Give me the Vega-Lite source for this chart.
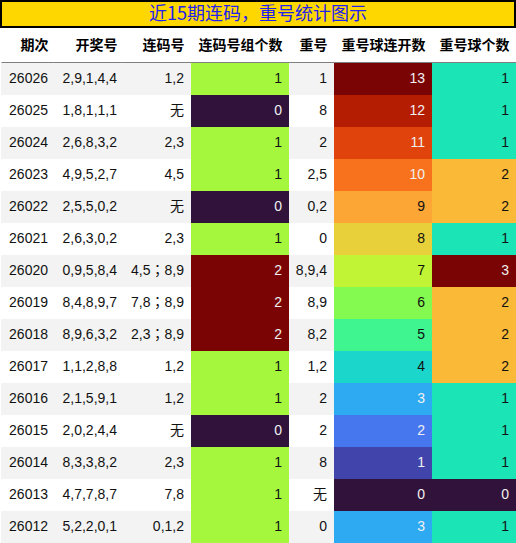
{
  "$schema": "https://vega.github.io/schema/vega-lite/v6.json",
  "padding": 0,
  "background": "#ffffff",
  "spacing": 10,
  "datasets": {
    "t": [
      {"period": 26026, "draw": "2,9,1,4,4", "lian": "1,2", "lianCount": 1, "chong": "1", "chongRun": 13, "chongCount": 1},
      {"period": 26025, "draw": "1,8,1,1,1", "lian": "无", "lianCount": 0, "chong": "8", "chongRun": 12, "chongCount": 1},
      {"period": 26024, "draw": "2,6,8,3,2", "lian": "2,3", "lianCount": 1, "chong": "2", "chongRun": 11, "chongCount": 1},
      {"period": 26023, "draw": "4,9,5,2,7", "lian": "4,5", "lianCount": 1, "chong": "2,5", "chongRun": 10, "chongCount": 2},
      {"period": 26022, "draw": "2,5,5,0,2", "lian": "无", "lianCount": 0, "chong": "0,2", "chongRun": 9, "chongCount": 2},
      {"period": 26021, "draw": "2,6,3,0,2", "lian": "2,3", "lianCount": 1, "chong": "0", "chongRun": 8, "chongCount": 1},
      {"period": 26020, "draw": "0,9,5,8,4", "lian": "4,5；8,9", "lianCount": 2, "chong": "8,9,4", "chongRun": 7, "chongCount": 3},
      {"period": 26019, "draw": "8,4,8,9,7", "lian": "7,8；8,9", "lianCount": 2, "chong": "8,9", "chongRun": 6, "chongCount": 2},
      {"period": 26018, "draw": "8,9,6,3,2", "lian": "2,3；8,9", "lianCount": 2, "chong": "8,2", "chongRun": 5, "chongCount": 2},
      {"period": 26017, "draw": "1,1,2,8,8", "lian": "1,2", "lianCount": 1, "chong": "1,2", "chongRun": 4, "chongCount": 2},
      {"period": 26016, "draw": "2,1,5,9,1", "lian": "1,2", "lianCount": 1, "chong": "2", "chongRun": 3, "chongCount": 1},
      {"period": 26015, "draw": "2,0,2,4,4", "lian": "无", "lianCount": 0, "chong": "2", "chongRun": 2, "chongCount": 1},
      {"period": 26014, "draw": "8,3,3,8,2", "lian": "2,3", "lianCount": 1, "chong": "8", "chongRun": 1, "chongCount": 1},
      {"period": 26013, "draw": "4,7,7,8,7", "lian": "7,8", "lianCount": 1, "chong": "无", "chongRun": 0, "chongCount": 0},
      {"period": 26012, "draw": "5,2,2,0,1", "lian": "0,1,2", "lianCount": 1, "chong": "0", "chongRun": 3, "chongCount": 1}
    ]
  },
  "vconcat": [
    {
      "width": 514,
      "height": 26,
      "view": {"fill": "#FFD700", "stroke": "#000000", "strokeWidth": 2},
      "data": {"values": [{"title": "近15期连码，重号统计图示"}]},
      "mark": {"type": "text", "fontSize": 18, "color": "#2222EE", "font": "Noto Sans CJK SC", "baseline": "middle", "align": "center", "dy": 1},
      "encoding": {"text": {"field": "title", "type": "nominal"}}
    },
    {
      "hconcat": [
        {
          "width": 52, "height": 480, "data": {"name": "t"},
          "layer": [
            {"mark": "rect", "encoding": {
              "x": {"datum": 0, "type": "quantitative", "scale": {"domain": [0, 1]}, "axis": {"orient": "top", "title": "期次", "titleX": 47}},
              "x2": {"datum": 1},
              "y": {"field": "period", "type": "ordinal", "sort": "descending", "scale": {"paddingInner": 0, "paddingOuter": 0}, "axis": null},
              "fill": {"field": "period", "type": "ordinal", "sort": "descending", "scale": {"range": ["#f3f3f3", "#ffffff"]}, "legend": null}
            }},
            {"mark": {"type": "text", "align": "right", "dx": -5, "baseline": "middle", "color": "#111111"}, "encoding": {
              "x": {"datum": 1, "type": "quantitative", "axis": {"orient": "top", "title": "期次", "titleX": 47}},
              "y": {"field": "period", "type": "ordinal", "sort": "descending", "axis": null},
              "text": {"field": "period", "type": "nominal"}
            }}
          ]
        },
        {
          "width": 68, "height": 480, "data": {"name": "t"},
          "layer": [
            {"mark": "rect", "encoding": {
              "x": {"datum": 0, "type": "quantitative", "scale": {"domain": [0, 1]}, "axis": {"orient": "top", "title": "开奖号", "titleX": 64}},
              "x2": {"datum": 1},
              "y": {"field": "period", "type": "ordinal", "sort": "descending", "scale": {"paddingInner": 0, "paddingOuter": 0}, "axis": null},
              "fill": {"field": "period", "type": "ordinal", "sort": "descending", "scale": {"range": ["#f3f3f3", "#ffffff"]}, "legend": null}
            }},
            {"mark": {"type": "text", "align": "right", "dx": -4, "baseline": "middle", "color": "#111111"}, "encoding": {
              "x": {"datum": 1, "type": "quantitative", "axis": {"orient": "top", "title": "开奖号", "titleX": 64}},
              "y": {"field": "period", "type": "ordinal", "sort": "descending", "axis": null},
              "text": {"field": "draw", "type": "nominal"}
            }}
          ]
        },
        {
          "width": 70, "height": 480, "data": {"name": "t"},
          "layer": [
            {"mark": "rect", "encoding": {
              "x": {"datum": 0, "type": "quantitative", "scale": {"domain": [0, 1]}, "axis": {"orient": "top", "title": "连码号", "titleX": 63}},
              "x2": {"datum": 1},
              "y": {"field": "period", "type": "ordinal", "sort": "descending", "scale": {"paddingInner": 0, "paddingOuter": 0}, "axis": null},
              "fill": {"field": "period", "type": "ordinal", "sort": "descending", "scale": {"range": ["#f3f3f3", "#ffffff"]}, "legend": null}
            }},
            {"mark": {"type": "text", "align": "right", "dx": -7, "baseline": "middle", "color": "#111111", "font": "Liberation Sans, Noto Sans CJK TC"}, "encoding": {
              "x": {"datum": 1, "type": "quantitative", "axis": {"orient": "top", "title": "连码号", "titleX": 63}},
              "y": {"field": "period", "type": "ordinal", "sort": "descending", "axis": null},
              "text": {"field": "lian", "type": "nominal"}
            }}
          ]
        },
        {
          "width": 98, "height": 480, "data": {"name": "t"},
          "layer": [
            {"mark": "rect", "encoding": {
              "x": {"datum": 0, "type": "quantitative", "scale": {"domain": [0, 1]}, "axis": {"orient": "top", "title": "连码号组个数", "titleX": 91}},
              "x2": {"datum": 1},
              "y": {"field": "period", "type": "ordinal", "sort": "descending", "scale": {"paddingInner": 0, "paddingOuter": 0}, "axis": null},
              "fill": {"field": "lianCount", "type": "quantitative", "scale": {"domain": [0, 1, 2], "range": ["#30123b", "#a4f73c", "#7a0403"]}, "legend": null}
            }},
            {"mark": {"type": "text", "align": "right", "dx": -7, "baseline": "middle"}, "encoding": {
              "x": {"datum": 1, "type": "quantitative", "axis": {"orient": "top", "title": "连码号组个数", "titleX": 91}},
              "y": {"field": "period", "type": "ordinal", "sort": "descending", "axis": null},
              "text": {"field": "lianCount", "type": "nominal"},
              "color": {"condition": {"test": "datum.lianCount != 1", "value": "#f0f0f0"}, "value": "#111111"}
            }}
          ]
        },
        {
          "width": 45, "height": 480, "data": {"name": "t"},
          "layer": [
            {"mark": "rect", "encoding": {
              "x": {"datum": 0, "type": "quantitative", "scale": {"domain": [0, 1]}, "axis": {"orient": "top", "title": "重号", "titleX": 38}},
              "x2": {"datum": 1},
              "y": {"field": "period", "type": "ordinal", "sort": "descending", "scale": {"paddingInner": 0, "paddingOuter": 0}, "axis": null},
              "fill": {"field": "period", "type": "ordinal", "sort": "descending", "scale": {"range": ["#f3f3f3", "#ffffff"]}, "legend": null}
            }},
            {"mark": {"type": "text", "align": "right", "dx": -7, "baseline": "middle", "color": "#111111"}, "encoding": {
              "x": {"datum": 1, "type": "quantitative", "axis": {"orient": "top", "title": "重号", "titleX": 38}},
              "y": {"field": "period", "type": "ordinal", "sort": "descending", "axis": null},
              "text": {"field": "chong", "type": "nominal"}
            }}
          ]
        },
        {
          "width": 98, "height": 480, "data": {"name": "t"},
          "layer": [
            {"mark": "rect", "encoding": {
              "x": {"datum": 0, "type": "quantitative", "scale": {"domain": [0, 1]}, "axis": {"orient": "top", "title": "重号球连开数", "titleX": 91}},
              "x2": {"datum": 1},
              "y": {"field": "period", "type": "ordinal", "sort": "descending", "scale": {"paddingInner": 0, "paddingOuter": 0}, "axis": null},
              "fill": {"field": "chongRun", "type": "quantitative", "scale": {
                "domain": [0, 1, 2, 3, 4, 5, 6, 7, 8, 9, 10, 11, 12, 13],
                "range": ["#30123b", "#4145ab", "#4777ef", "#2eaaf2", "#1bd7cb", "#3ef58f", "#84fa50", "#c0f434", "#e8d03a", "#fca636", "#f8721d", "#e0440c", "#b51d02", "#7a0403"]
              }, "legend": null}
            }},
            {"mark": {"type": "text", "align": "right", "dx": -7, "baseline": "middle"}, "encoding": {
              "x": {"datum": 1, "type": "quantitative", "axis": {"orient": "top", "title": "重号球连开数", "titleX": 91}},
              "y": {"field": "period", "type": "ordinal", "sort": "descending", "axis": null},
              "text": {"field": "chongRun", "type": "nominal"},
              "color": {"condition": {"test": "datum.chongRun <= 3 || datum.chongRun >= 10", "value": "#f0f0f0"}, "value": "#111111"}
            }}
          ]
        },
        {
          "width": 85, "height": 480, "data": {"name": "t"},
          "layer": [
            {"mark": "rect", "encoding": {
              "x": {"datum": 0, "type": "quantitative", "scale": {"domain": [0, 1]}, "axis": {"orient": "top", "title": "重号球个数", "titleX": 77}},
              "x2": {"datum": 1},
              "y": {"field": "period", "type": "ordinal", "sort": "descending", "scale": {"paddingInner": 0, "paddingOuter": 0}, "axis": null},
              "fill": {"field": "chongCount", "type": "quantitative", "scale": {"domain": [0, 1, 2, 3], "range": ["#30123b", "#1be4b6", "#fbb938", "#7a0403"]}, "legend": null}
            }},
            {"mark": {"type": "text", "align": "right", "dx": -8, "baseline": "middle"}, "encoding": {
              "x": {"datum": 1, "type": "quantitative", "axis": {"orient": "top", "title": "重号球个数", "titleX": 77}},
              "y": {"field": "period", "type": "ordinal", "sort": "descending", "axis": null},
              "text": {"field": "chongCount", "type": "nominal"},
              "color": {"condition": {"test": "datum.chongCount == 0 || datum.chongCount == 3", "value": "#f0f0f0"}, "value": "#111111"}
            }}
          ]
        }
      ],
      "spacing": 0,
      "resolve": {"scale": {"fill": "independent", "x": "independent", "color": "independent"}}
    }
  ],
  "config": {
    "view": {"stroke": null},
    "font": "Liberation Sans, Noto Sans CJK SC",
    "text": {"fontSize": 14, "font": "Liberation Sans, Noto Sans CJK SC"},
    "axis": {
      "labels": false, "ticks": false, "grid": false,
      "domainColor": "#000000", "domainWidth": 2,
      "titleFont": "Noto Sans CJK SC", "titleFontSize": 14, "titleFontWeight": "bold", "titleColor": "#000000",
      "titleAlign": "right", "titleBaseline": "middle", "titleY": -18, "titleAngle": 0
    }
  }
}
